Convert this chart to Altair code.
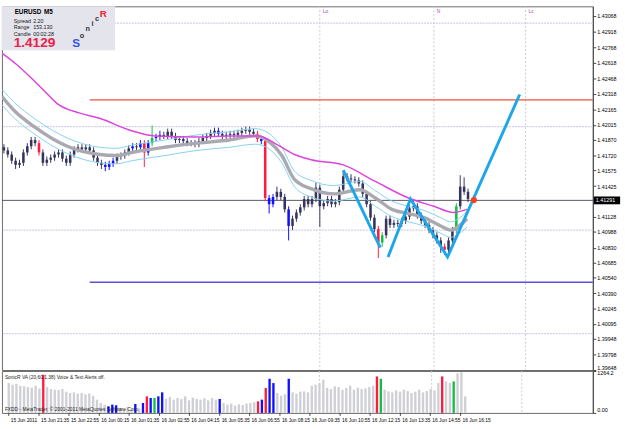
import altair as alt
import pandas as pd

# ---------------- data ----------------
# EURUSD M5 candles, prices in units of 0.0001
open_p = [14180,14177,14173,14167,14163,14165,14175,14181,14187,14184,
          14175,14165,14168,14170,14173,14175,14169,14165,14173,14178,
          14180,14178,14180,14177,14170,14165,14163,14161,14164,14167,
          14171,14172,14175,14179,14181,14180,14184,14175,14184,14189,
          14190,14192,14191,14195,14191,14187,14188,14186,14184,14184,
          14183,14186,14189,14191,14194,14196,14193,14191,14192,14193,
          14192,14194,14196,14197,14195,14193,14188,14186,14131,14125,
          14132,14137,14132,14120,14104,14111,14117,14122,14130,14125,
          14130,14141,14123,14126,14130,14125,14127,14139,14152,14150,
          14149,14148,14145,14135,14125,14112,14101,14088,14095,14111,
          14105,14107,14106,14109,14113,14121,14123,14114,14109,14105,
          14100,14095,14090,14084,14081,14090,14100,14123,14142,14137]
high_p = [14183,14180,14176,14170,14168,14178,14184,14190,14190,14187,
          14178,14171,14173,14176,14178,14178,14172,14176,14181,14183,
          14183,14183,14183,14180,14173,14168,14166,14167,14170,14174,
          14175,14178,14182,14184,14184,14187,14187,14187,14201,14193,
          14196,14195,14198,14198,14194,14191,14191,14189,14187,14187,
          14189,14192,14194,14197,14199,14199,14196,14195,14196,14196,
          14197,14199,14200,14200,14198,14196,14191,14189,14134,14135,
          14142,14140,14135,14123,14114,14120,14125,14133,14133,14133,
          14146,14144,14129,14133,14133,14130,14142,14157,14155,14154,
          14152,14151,14148,14138,14128,14115,14104,14098,14114,14114,
          14110,14110,14112,14116,14124,14129,14126,14117,14112,14108,
          14103,14098,14093,14087,14093,14103,14126,14153,14151,14140]
low_p = [14174,14170,14164,14159,14160,14162,14172,14178,14181,14172,
         14162,14162,14165,14167,14170,14166,14162,14162,14170,14175,
         14175,14175,14174,14167,14162,14159,14157,14158,14161,14164,
         14168,14169,14172,14176,14177,14177,14161,14172,14181,14186,
         14187,14188,14188,14188,14184,14184,14183,14181,14181,14180,
         14180,14183,14186,14188,14191,14190,14188,14188,14189,14189,
         14189,14191,14193,14192,14190,14185,14183,14128,14116,14122,
         14129,14129,14117,14090,14100,14108,14114,14119,14122,14122,
         14127,14103,14120,14123,14122,14122,14124,14136,14147,14146,
         14145,14142,14132,14122,14109,14098,14073,14084,14092,14102,
         14102,14103,14103,14106,14110,14118,14111,14106,14102,14097,
         14092,14087,14078,14076,14078,14087,14097,14120,14134,14127]
close_p = [14177,14173,14167,14163,14165,14175,14181,14187,14184,14175,
           14165,14168,14170,14173,14175,14169,14165,14173,14178,14180,
           14178,14180,14177,14170,14165,14163,14161,14164,14167,14171,
           14172,14175,14179,14181,14180,14184,14175,14184,14189,14190,
           14192,14191,14195,14191,14187,14188,14186,14184,14184,14183,
           14186,14189,14191,14194,14196,14193,14191,14192,14193,14192,
           14194,14196,14197,14195,14193,14188,14186,14131,14125,14132,
           14137,14132,14120,14104,14111,14117,14122,14130,14125,14130,
           14141,14123,14126,14130,14125,14127,14139,14152,14150,14149,
           14148,14145,14135,14125,14112,14101,14088,14095,14111,14105,
           14107,14106,14109,14113,14121,14123,14114,14109,14105,14100,
           14095,14090,14084,14081,14090,14100,14123,14142,14137,14130]
# volume-analysis class of each bar: n normal, b blue, r red, g green
bar_kind = list("nnnnnnnnnr" "nnnnnnnnnn" "nnnnnnbbbn" "nnnbnbrbgb"
                "bnnnnnnnnn" "nnnnnbnnnn" "nnnnnrbrbb" "nnnbnnnnnn"
                "nnnnnnnnnn" "nnnnnnrgnn" "nnnnnnnnnn" "nnnrnngnnn")
volume = [900,850,880,820,800,780,760,820,740,1150,
          780,720,700,690,720,640,600,620,580,600,
          560,590,520,400,300,250,200,250,230,150,
          120,180,100,270,140,300,500,450,450,500,
          620,430,480,400,450,420,500,380,460,420,
          400,440,380,450,400,420,300,250,280,220,
          260,240,280,300,320,350,400,750,1030,900,
          600,520,560,1030,620,580,640,650,620,820,
          850,900,1000,760,720,800,780,700,750,820,
          700,760,720,740,780,820,1100,1030,700,650,
          620,680,640,700,660,600,640,700,620,660,
          720,680,900,1100,950,900,950,1200,1230,500]

# moving averages (bar index, price*1e4)
mag_t = [-0.5, 3.25, 7, 10.75, 13.75, 19.5, 24.5, 32.75, 38.75, 49.5, 57.75,
         65.25, 70.25, 74.5, 78.75, 87, 95.25, 103.75, 110.25, 115.25, 118.75]
mag_p = [14271, 14260, 14247, 14233, 14222, 14213, 14208, 14196, 14191, 14190, 14191,
         14191, 14182, 14173, 14168, 14163, 14147, 14131, 14123, 14117, 14120]
band_t = [-0.5, 2.75, 7.75, 16.25, 24.5, 28.75, 32.75, 41.25, 49.5, 57.75, 64.5, 67.75,
          71.25, 74.5, 78.75, 84.5, 91.25, 95.25, 99.5, 103.75, 107.75, 112, 114.5, 118.75]
mid_p = [14229, 14215, 14200, 14181, 14173, 14172, 14175, 14180, 14184, 14187, 14191, 14186,
         14172, 14149, 14140, 14135, 14139, 14131, 14120, 14116, 14112, 14104, 14100, 14111]
upper_p = [14236, 14223, 14208, 14189, 14180, 14179, 14182, 14187, 14192, 14195, 14198, 14194,
           14180, 14157, 14148, 14143, 14147, 14138, 14128, 14123, 14119, 14112, 14108, 14118]
lower_p = [14221, 14208, 14193, 14174, 14165, 14164, 14167, 14172, 14177, 14180, 14183, 14179,
           14165, 14142, 14132, 14128, 14132, 14123, 14113, 14108, 14104, 14097, 14093, 14103]

# zigzag pattern
zz_seg = ["a", "a", "b", "b", "b", "b"]
zz_t = [87, 96.5, 98.5, 104.25, 113.75, 132.25]
zz_p = [14158, 14083, 14074, 14130, 14074, 14231]
dot_t = [120.5]
dot_p = [14129]

# levels
grid_levels = [1.430, 1.420, 1.410, 1.400]
red_level = [1.42258]
blue_level = [1.40496]
level_start = [22]
current_price = [1.41287]
current_label = "1.41291"
session_t = [81, 110.25, 133.75]
session_txt = ["Lo", "N", "Lc"]

price_ticks = [1.43068, 1.42918, 1.42768, 1.42618, 1.42468, 1.42318, 1.42165, 1.42015,
               1.41870, 1.41720, 1.41575, 1.41425, 1.41128, 1.40988, 1.40830, 1.40685,
               1.40540, 1.40390, 1.40245, 1.40095, 1.39948, 1.39798, 1.39648]
vol_max = 1264.2

xl_t = [0, 7.9, 15.7, 23.6, 31.4, 39.3, 47.1, 55.0, 62.8, 70.7, 78.5, 86.4, 94.2, 102.1, 109.9, 117.8]
xl_txt = ["15 Jun 2011", "15 Jun 21:35", "15 Jun 22:55", "16 Jun 00:15", "16 Jun 01:35",
          "16 Jun 02:55", "16 Jun 04:15", "16 Jun 05:35", "16 Jun 06:55", "16 Jun 08:15",
          "16 Jun 09:35", "16 Jun 10:55", "16 Jun 12:15", "16 Jun 13:35", "16 Jun 14:55",
          "16 Jun 16:15"]

# ---------------- tables ----------------
S = 10000.0
bars = pd.DataFrame({
    "t": list(range(len(close_p))),
    "o": [v / S for v in open_p], "h": [v / S for v in high_p],
    "l": [v / S for v in low_p], "c": [v / S for v in close_p],
    "k": bar_kind, "v": volume,
})
mag = pd.DataFrame({"t": mag_t, "p": [v / S for v in mag_p]})
mid = pd.DataFrame({"t": band_t, "p": [v / S for v in mid_p]})
upb = pd.DataFrame({"t": band_t, "p": [v / S for v in upper_p]})
lob = pd.DataFrame({"t": band_t, "p": [v / S for v in lower_p]})
zz = pd.DataFrame({"seg": zz_seg, "t": zz_t, "p": [v / S for v in zz_p]})
dot = pd.DataFrame({"t": dot_t, "p": [v / S for v in dot_p]})
grid = pd.DataFrame({"p": grid_levels})
redl = pd.DataFrame({"t0": level_start, "t1": [151], "p": red_level})
bluel = pd.DataFrame({"t0": level_start, "t1": [151], "p": blue_level})
cur = pd.DataFrame({"p": current_price})
sess = pd.DataFrame({"t": session_t, "s": session_txt})
xl = pd.DataFrame({"t": xl_t, "s": xl_txt})
one = pd.DataFrame({"z": [0]})

FONT = "Liberation Sans"
xs = alt.Scale(domain=[-0.5, 151], nice=False, zero=False)
ps = alt.Scale(domain=[1.39648, 1.43162], nice=False, zero=False)
yax = alt.Axis(orient="right", values=price_ticks, format=".5f", labelFontSize=5.5,
               labelFont=FONT, labelColor="#000000", tickSize=3, tickColor="#444444",
               domainColor="#444444", labelPadding=1, grid=False, title=None,
               labelOverlap=False, labelFlush=True)


def X(f="t:Q"):
    return alt.X(f, scale=xs, axis=None)


def Y(f="p:Q"):
    return alt.Y(f, scale=ps, axis=yax)


kc = alt.Color("k:N", legend=None,
               scale=alt.Scale(domain=["n", "b", "r", "g"],
                               range=["#34345c", "#1010ff", "#ff1a40", "#10c040"]))


def hud(text, x, y, size=5.5, color="#222222", weight="normal", align="left"):
    return alt.Chart(one).mark_text(text=text, x=x, y=y, fontSize=size, color=color,
                                    fontWeight=weight, font=FONT, align=align,
                                    baseline="middle")


top_layers = [
    alt.Chart(grid).mark_rule(color="#cfcfe8", strokeWidth=1.2, strokeDash=[2, 1]).encode(y=Y()),
    alt.Chart(sess).mark_rule(color="#c8c8d8", strokeDash=[2, 2]).encode(x=X()),
    alt.Chart(redl).mark_rule(color="#f2553a", strokeWidth=1.5).encode(x=X("t0:Q"), x2="t1:Q", y=Y()),
    alt.Chart(bluel).mark_rule(color="#5a50dc", strokeWidth=1.5).encode(x=X("t0:Q"), x2="t1:Q", y=Y()),
    alt.Chart(cur).mark_rule(color="#555566", strokeWidth=1).encode(y=Y()),
    alt.Chart(bars).mark_rule(strokeWidth=1).encode(x=X(), y=Y("l:Q"), y2="h:Q", color=kc),
    alt.Chart(bars).mark_rule(strokeWidth=2.6).encode(x=X(), y=Y("o:Q"), y2="c:Q", color=kc),
    alt.Chart(upb).mark_line(color="#86d0f0", strokeWidth=1, interpolate="monotone", clip=True).encode(x=X(), y=Y()),
    alt.Chart(lob).mark_line(color="#86d0f0", strokeWidth=1, interpolate="monotone", clip=True).encode(x=X(), y=Y()),
    alt.Chart(mid).mark_line(color="#a9a9b2", strokeWidth=3.5, interpolate="monotone", clip=True).encode(x=X(), y=Y()),
    alt.Chart(mag).mark_line(color="#dd44dd", strokeWidth=1.5, interpolate="monotone", clip=True).encode(x=X(), y=Y()),
    alt.Chart(zz).mark_line(color="#1ea6ea", strokeWidth=3, clip=True).encode(x=X(), y=Y(), detail="seg:N"),
    alt.Chart(dot).mark_circle(color="#ff4020", size=40, opacity=1).encode(x=X(), y=Y()),
    alt.Chart(sess).mark_text(y=5, dx=3, align="left", fontSize=5, font=FONT, color="#a050b0").encode(x=X(), text="s:N"),
    alt.Chart(cur).mark_rule(x=607, x2=634, strokeWidth=8, color="#000000").encode(y=Y()),
    alt.Chart(cur).mark_text(x=609, align="left", baseline="middle", fontSize=5.5, font=FONT,
                             color="#ffffff", text=current_label).encode(y=Y()),
    alt.Chart(one).mark_rect(x=0, x2=116, y=0, y2=45, color="#e4e4ec"),
    hud("EURUSD", 13, 6, 6.5, "#000000", "bold"),
    hud("M5", 43, 6, 6.5, "#000000", "bold"),
    hud("Spread", 12, 15), hud("2.20", 32, 15),
    hud("Range", 12, 21.5), hud("153.130", 32, 21.5),
    hud("Candle", 12, 28), hud("00:02:28", 32, 28),
    hud("1.4129", 12, 38, 14, "#e8214b", "bold"),
    hud("S", 76, 38, 12, "#3355dd", "bold", "center"),
    hud("o", 82, 30, 7.5, "#333333", "bold", "center"),
    hud("n", 88, 23.5, 7.5, "#333333", "bold", "center"),
    hud("i", 93, 18, 7.5, "#333333", "bold", "center"),
    hud("c", 97.5, 13.5, 7.5, "#333333", "bold", "center"),
    hud("R", 104, 8, 10, "#ee2233", "bold", "center"),
]
top = alt.layer(*top_layers).properties(width=606, height=373)

vs = alt.Scale(domain=[0, vol_max], nice=False, zero=True)
vax = alt.Axis(orient="right", values=[0, vol_max],
               labelExpr="datum.value == 0 ? '0.00' : '1264.2'", labelFlush=True,
               labelFontSize=5.5, labelFont=FONT, labelColor="#000000", tickSize=3,
               tickColor="#444444", domainColor="#444444", labelPadding=1, grid=False,
               title=None)
vc = alt.Color("k:N", legend=None,
               scale=alt.Scale(domain=["n", "b", "r", "g"],
                               range=["#cfcfd6", "#1010ff", "#ff1a40", "#10c040"]))
bottom_layers = [
    alt.Chart(sess).mark_rule(color="#c8c8d8", strokeDash=[2, 2]).encode(x=X()),
    alt.Chart(bars).mark_bar(size=2.4).encode(x=X(), y=alt.Y("v:Q", scale=vs, axis=vax), color=vc),
    hud("SonicR VA (20,60,1.38)    Voice & Text Alerts off.", 3, 6, 5, "#222222"),
    hud("FXDD - MetaTrader, \u00a9 2001-2011 MetaQuotes Software Corp.", 3, 39.5, 5, "#222222"),
    alt.Chart(xl).mark_rule(y=43, y2=46, color="#444444").encode(x=X()),
    alt.Chart(xl).mark_text(y=50.5, dx=2, align="left", baseline="middle", fontSize=5,
                            font=FONT, color="#000000").encode(x=X(), text="s:N"),
]
bottom = alt.layer(*bottom_layers).properties(width=606, height=43)

chart = alt.vconcat(top, bottom, spacing=1, bounds="flush").resolve_scale(
    color="independent", y="independent"
).properties(padding=0, background="#ffffff").configure_view(
    stroke="#6a6a6a", strokeWidth=1
)

chart.save("out.html", embed_options={"renderer": "svg", "actions": False})
